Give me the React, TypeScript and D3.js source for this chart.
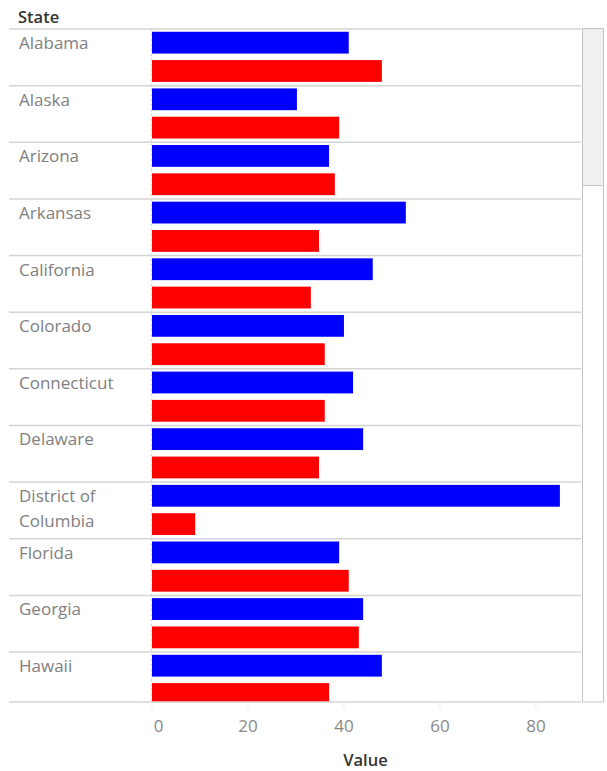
import React from "react";
import * as d3 from "d3";

const states = ["Alabama","Alaska","Arizona","Arkansas","California","Colorado","Connecticut","Delaware","District of Columbia","Florida","Georgia","Hawaii"];
const blueValues = [41.0,30.2,36.9,52.9,46.0,40.0,41.9,44.0,85.0,39.0,44.0,47.9];
const redValues = [47.9,39.0,38.1,34.8,33.1,36.0,36.0,34.8,9.0,41.0,43.1,36.9];
const xTicks = [0,20,40,60,80];
const seriesKeys = ["blue","red"];
const seriesColors = ["#0000ff","#ff0000"];

const W = 607, H = 771;
const top = 28.5, bottom = 702;
const rowH = 56.64;
const plotL = 152, plotR = 581;
const font = "'Open Sans', 'Noto Sans', sans-serif";

export default function App() {
  const x = d3.scaleLinear().domain([0, 89.4]).range([plotL, plotR]);
  const y = d3.scaleBand<string>().domain(states).range([top, top + rowH * states.length]).padding(0);
  const inner = d3.scaleBand<string>().domain(seriesKeys).range([0, y.bandwidth()]).paddingInner(0.23).paddingOuter(0.115);
  const vals = [blueValues, redValues];
  const labelLines = (s: string) => s === "District of Columbia" ? ["District of", "Columbia"] : [s];
  return (
    <svg width={W} height={H} style={{ position: "absolute", left: 0, top: 0, fontFamily: font }}>
      <rect width={W} height={H} fill="#fff" />
      <defs>
        <clipPath id="plotclip">
          <rect x={0} y={top} width={plotR} height={bottom - top} />
        </clipPath>
      </defs>
      <text x={18} y={23} fontSize={16.5} fill="#333" fontWeight={600}>State</text>
      <g clipPath="url(#plotclip)">
        {/* zero line */}
        <line x1={x(0) - 0.5} x2={x(0) - 0.5} y1={top} y2={bottom} stroke="#dcdcdc" strokeWidth={1.5} strokeDasharray="3,2" />
        {/* bars */}
        {states.map((s, i) =>
          seriesKeys.map((k, j) => (
            <rect key={s + k} x={x(0)} y={y(s)! + inner(k)!} width={x(vals[j][i]) - x(0)} height={inner.bandwidth()} fill={seriesColors[j]} />
          ))
        )}
        {/* labels */}
        {states.map((s) =>
          labelLines(s).map((t, li) => (
            <text key={s + li} x={19} y={y(s)! + 20.5 + li * 24.5} fontSize={17} fill="#808080">{t}</text>
          ))
        )}
      </g>
      {/* row lines */}
      {states.map((s) => (
        <line key={"l" + s} x1={9} x2={plotR} y1={y(s)! + 0.5} y2={y(s)! + 0.5} stroke="#d4d4d4" strokeWidth={1.5} />
      ))}
      <line x1={9} x2={plotR} y1={bottom} y2={bottom} stroke="#d4d4d4" strokeWidth={1.5} />
      {/* axis ticks */}
      {xTicks.map((t) => (
        <g key={"t" + t}>
          <line x1={x(t)} x2={x(t)} y1={bottom + 1} y2={bottom + 7} stroke="#ececec" strokeWidth={1} />
          <text x={x(t) + (t === 0 ? 6.5 : 0)} y={731.5} fontSize={17} fill="#888" textAnchor="middle">{t}</text>
        </g>
      ))}
      <text x={365.5} y={766} fontSize={16.5} fill="#333" textAnchor="middle" fontWeight={600}>Value</text>
      {/* scrollbar */}
      <rect x={582.5} y={top} width={21} height={bottom - top} fill="#fff" stroke="#c4c4c4" strokeWidth={1} />
      <rect x={582.5} y={top} width={21} height={157} fill="#f0f0f0" stroke="#c4c4c4" strokeWidth={1} />
    </svg>
  );
}
